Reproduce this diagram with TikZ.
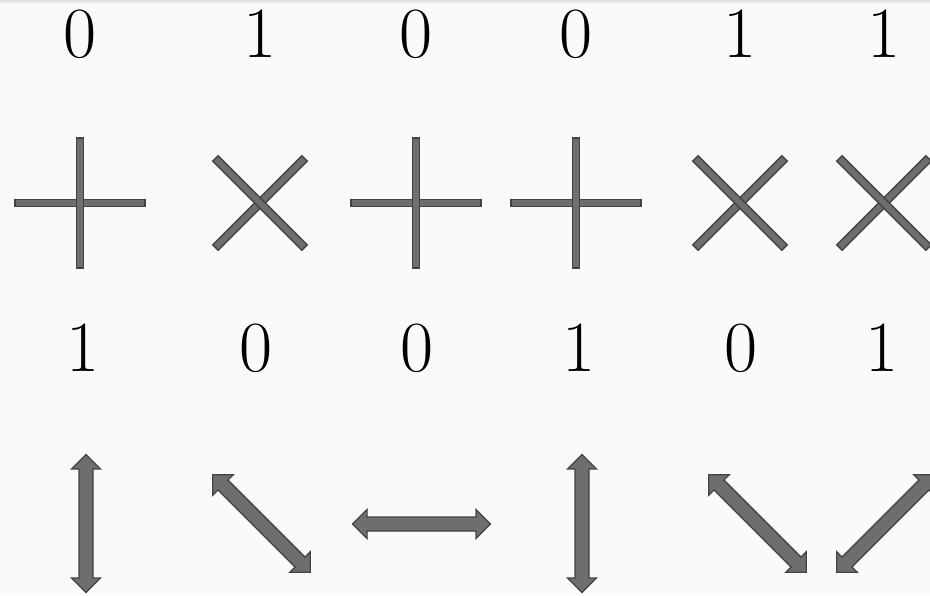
\documentclass[tikz,border=0pt]{standalone}
\usepackage{fontspec}
\setmainfont{Latin Modern Roman}
\definecolor{bg}{HTML}{FAFAFA}
\definecolor{symfill}{HTML}{6E6E6E}
\definecolor{symedge}{HTML}{444444}
\tikzset{
  sym/.style={fill=symfill,draw=symedge,line width=1.3pt,line join=miter},
  digit/.style={font=\fontsize{72}{80}\selectfont,inner sep=0pt,text=black},
  pics/plusbars/.style={code={
    \draw[sym] (-65,-3.8) rectangle (65,3.8);
    \draw[sym] (-3.8,-65) rectangle (3.8,65);
  }},
  pics/crossbars/.style={code={
    \draw[sym] (-63,-3.8) rectangle (63,3.8);
    \draw[sym] (-3.8,-63) rectangle (3.8,63);
  }},
  pics/darrow/.style={code={
    \draw[sym] (-69,0) -- (-54.5,14.5) -- (-54.5,7) -- (54.5,7) -- (54.5,14.5) -- (69,0)
      -- (54.5,-14.5) -- (54.5,-7) -- (-54.5,-7) -- (-54.5,-14.5) -- cycle;
  }}
}
\begin{document}
\begin{tikzpicture}[x=1pt,y=-1pt]
\useasboundingbox (0,0) rectangle (930,595);
\clip (0,0) rectangle (930,595);
\fill[bg] (0,0) rectangle (930,595);
\shade[top color=gray!22,bottom color=bg] (0,0) rectangle (930,4);
% top row of digits
\node[digit] (t1) at (80,34) {0};
\node[digit] (t2) at (260,34) {1};
\node[digit] (t3) at (416,34) {0};
\node[digit] (t4) at (576,34) {0};
\node[digit] (t5) at (740,34) {1};
\node[digit] (t6) at (884,34) {1};
% crosses
\pic at (80,203) {plusbars};
\pic[rotate=45] at (260,203) {crossbars};
\pic at (416,203) {plusbars};
\pic at (576,203) {plusbars};
\pic[rotate=45] at (740,203) {crossbars};
\pic[rotate=45] at (884,203) {crossbars};
% second row of digits
\node[digit] (b1) at (83,348) {1};
\node[digit] (b2) at (256,348) {0};
\node[digit] (b3) at (417,348) {0};
\node[digit] (b4) at (579,348) {1};
\node[digit] (b5) at (741,348) {0};
\node[digit] (b6) at (882,348) {1};
% double arrows
\pic[rotate=90] at (86,523.5) {darrow};
\pic[rotate=-45] at (261.5,523.5) {darrow};
\pic at (421.5,524) {darrow};
\pic[rotate=90] at (582,523.5) {darrow};
\pic[rotate=-45] at (757.5,523.5) {darrow};
\pic[rotate=45] at (885.5,523.5) {darrow};
\end{tikzpicture}
\end{document}
